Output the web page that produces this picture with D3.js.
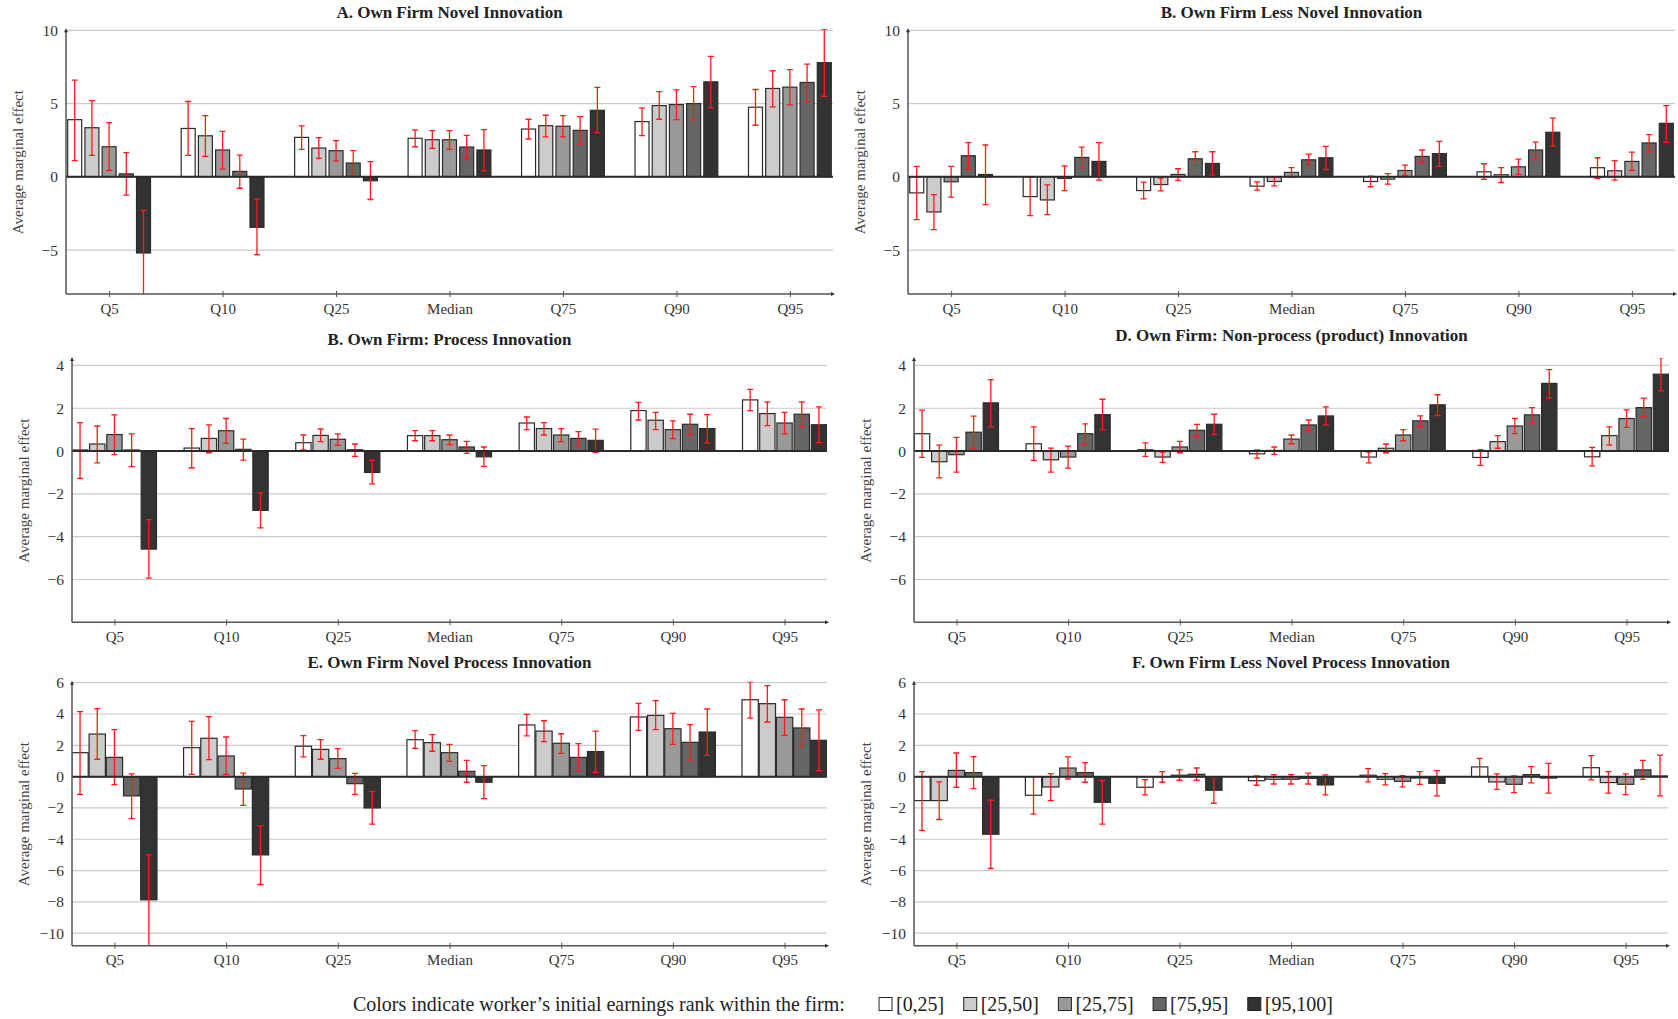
<!DOCTYPE html>
<html>
<head>
<meta charset="utf-8">
<script src="https://cdn.jsdelivr.net/npm/d3@7"></script>
<style>
  body { margin: 0; background: #fff; }
  svg text { font-family: "Liberation Serif", "DejaVu Serif", serif; }
</style>
</head>
<body>
<svg id="chart"></svg>
<script>
const quantiles = ["Q5", "Q10", "Q25", "Median", "Q75", "Q90", "Q95"];
const rankGroups = ["[0,25]", "[25,50]", "[25,75]", "[75,95]", "[95,100]"];
const legendText = "Colors indicate worker\u2019s initial earnings rank within the firm:";

const titles = [
  "A. Own Firm Novel Innovation",
  "B. Own Firm Less Novel Innovation",
  "B. Own Firm: Process Innovation",
  "D. Own Firm: Non-process (product) Innovation",
  "E. Own Firm Novel Process Innovation",
  "F. Own Firm Less Novel Process Innovation"
];

const ticksTop = [-5, 0, 5, 10];
const ticksMid = [-6, -4, -2, 0, 2, 4];
const ticksBottom = [-10, -8, -6, -4, -2, 0, 2, 4, 6];

// rows = quantiles, columns = rank groups
const novelMean = [
  [3.9, 3.35, 2.05, 0.2, -5.2],
  [3.3, 2.8, 1.83, 0.37, -3.45],
  [2.69, 1.96, 1.78, 0.94, -0.27],
  [2.63, 2.53, 2.53, 2.03, 1.83],
  [3.26, 3.49, 3.45, 3.17, 4.54],
  [3.77, 4.86, 4.93, 5.0, 6.48],
  [4.75, 6.03, 6.12, 6.44, 7.79]
];
const novelLow = [
  [1.1, 1.46, 0.43, -1.25, -8.1],
  [1.46, 1.39, 0.53, -0.78, -5.32],
  [1.87, 1.26, 1.07, 0.07, -1.55],
  [2.05, 1.94, 1.87, 1.21, 0.41],
  [2.58, 2.72, 2.72, 2.24, 3.01],
  [2.81, 3.93, 3.9, 3.88, 4.7],
  [3.52, 4.77, 4.91, 5.16, 5.5]
];
const novelHigh = [
  [6.6, 5.2, 3.7, 1.65, -2.3],
  [5.14, 4.18, 3.1, 1.48, -1.53],
  [3.47, 2.67, 2.47, 1.78, 1.03],
  [3.2, 3.15, 3.15, 2.83, 3.22],
  [3.93, 4.2, 4.18, 4.11, 6.1],
  [4.7, 5.82, 5.94, 6.16, 8.22],
  [5.96, 7.24, 7.31, 7.69, 10.07]
];

const lessNovelMean = [
  [-1.1, -2.4, -0.34, 1.44, 0.16],
  [-1.35, -1.58, -0.11, 1.32, 1.05],
  [-0.94, -0.53, 0.16, 1.23, 0.91],
  [-0.64, -0.32, 0.3, 1.16, 1.3],
  [-0.32, -0.16, 0.43, 1.39, 1.58],
  [0.34, 0.14, 0.68, 1.83, 3.04],
  [0.62, 0.41, 1.05, 2.31, 3.65]
];
const lessNovelLow = [
  [-2.92, -3.61, -1.39, 0.5, -1.9],
  [-2.65, -2.58, -0.94, 0.62, -0.23],
  [-1.51, -0.96, -0.25, 0.78, 0.11],
  [-0.91, -0.62, -0.02, 0.78, 0.5],
  [-0.68, -0.5, 0.09, 0.98, 0.71],
  [-0.18, -0.39, 0.16, 1.26, 2.1],
  [-0.11, -0.23, 0.43, 1.71, 2.35]
];
const lessNovelHigh = [
  [0.71, -1.21, 0.71, 2.33, 2.17],
  [-0.02, -0.55, 0.75, 2.03, 2.33],
  [-0.37, -0.09, 0.55, 1.71, 1.71],
  [-0.34, -0.02, 0.62, 1.55, 2.08],
  [0.05, 0.21, 0.8, 1.83, 2.42],
  [0.89, 0.62, 1.21, 2.37, 4.0],
  [1.3, 1.1, 1.69, 2.88, 4.86]
];

const processMean = [
  [0.05, 0.33, 0.77, 0.05, -4.58],
  [0.14, 0.59, 0.95, 0.08, -2.77],
  [0.39, 0.73, 0.55, 0.06, -1.0],
  [0.72, 0.72, 0.53, 0.19, -0.27],
  [1.31, 1.05, 0.75, 0.59, 0.5],
  [1.89, 1.44, 1.0, 1.25, 1.05],
  [2.39, 1.75, 1.31, 1.72, 1.23]
];
const processLow = [
  [-1.28, -0.55, -0.17, -0.73, -5.94],
  [-0.78, -0.08, 0.36, -0.42, -3.59],
  [0.05, 0.44, 0.27, -0.25, -1.53],
  [0.48, 0.48, 0.3, -0.11, -0.72],
  [1.0, 0.75, 0.44, 0.25, -0.06],
  [1.45, 1.0, 0.58, 0.75, 0.38],
  [1.89, 1.19, 0.8, 1.13, 0.39]
];
const processHigh = [
  [1.33, 1.17, 1.69, 0.8, -3.2],
  [1.05, 1.22, 1.52, 0.56, -1.95],
  [0.75, 1.03, 0.8, 0.33, -0.44],
  [0.95, 0.95, 0.75, 0.45, 0.19],
  [1.59, 1.33, 1.05, 0.91, 1.02],
  [2.27, 1.81, 1.41, 1.72, 1.7],
  [2.88, 2.3, 1.81, 2.3, 2.06]
];

const productMean = [
  [0.81, -0.5, -0.17, 0.88, 2.25],
  [0.34, -0.41, -0.28, 0.81, 1.7],
  [0.06, -0.28, 0.19, 0.97, 1.25],
  [-0.13, 0.03, 0.56, 1.22, 1.64],
  [-0.28, 0.13, 0.75, 1.41, 2.16],
  [-0.3, 0.44, 1.17, 1.69, 3.16],
  [-0.27, 0.72, 1.52, 2.03, 3.59]
];
const productLow = [
  [-0.3, -1.25, -0.98, 0.13, 1.13],
  [-0.44, -0.98, -0.8, 0.34, 1.0],
  [-0.25, -0.53, -0.08, 0.69, 0.77],
  [-0.33, -0.16, 0.34, 0.95, 1.22],
  [-0.55, -0.08, 0.48, 1.14, 1.66],
  [-0.67, 0.13, 0.81, 1.33, 2.47],
  [-0.69, 0.28, 1.11, 1.61, 2.81]
];
const productHigh = [
  [1.91, 0.28, 0.64, 1.63, 3.34],
  [1.13, 0.14, 0.23, 1.27, 2.42],
  [0.38, -0.05, 0.45, 1.25, 1.72],
  [0.05, 0.19, 0.75, 1.45, 2.06],
  [-0.05, 0.33, 1.0, 1.64, 2.63],
  [0.06, 0.72, 1.52, 2.03, 3.8],
  [0.17, 1.13, 1.92, 2.47, 4.36]
];

const novelProcessMean = [
  [1.53, 2.72, 1.23, -1.23, -7.87],
  [1.85, 2.45, 1.32, -0.79, -5.0],
  [1.94, 1.74, 1.15, -0.45, -2.0],
  [2.36, 2.17, 1.53, 0.34, -0.36],
  [3.3, 2.91, 2.13, 1.23, 1.6],
  [3.81, 3.91, 3.06, 2.19, 2.85],
  [4.91, 4.66, 3.79, 3.11, 2.32]
];
const novelProcessLow = [
  [-1.13, 1.11, -0.51, -2.68, -11.2],
  [0.15, 1.09, 0.15, -1.83, -6.89],
  [1.26, 1.11, 0.53, -1.13, -3.04],
  [1.81, 1.62, 0.98, -0.36, -1.4],
  [2.6, 2.23, 1.49, 0.38, 0.28],
  [2.96, 3.0, 2.06, 1.06, 1.36],
  [3.74, 3.49, 2.64, 1.87, 0.38]
];
const novelProcessHigh = [
  [4.15, 4.34, 3.0, 0.17, -5.0],
  [3.53, 3.83, 2.53, 0.23, -3.15],
  [2.62, 2.36, 1.79, 0.21, -0.94],
  [2.94, 2.68, 2.06, 1.04, 0.7],
  [3.98, 3.57, 2.74, 2.11, 2.91],
  [4.68, 4.85, 4.04, 3.32, 4.32],
  [6.06, 5.81, 4.91, 4.32, 4.26]
];

const lessNovelProcessMean = [
  [-1.53, -1.53, 0.4, 0.26, -3.68],
  [-1.19, -0.66, 0.55, 0.26, -1.64],
  [-0.68, -0.02, 0.09, 0.15, -0.87],
  [-0.26, -0.17, -0.17, -0.11, -0.53],
  [0.09, -0.17, -0.3, -0.09, -0.43],
  [0.62, -0.34, -0.49, 0.13, -0.09],
  [0.57, -0.38, -0.49, 0.43, 0.04]
];
const lessNovelProcessLow = [
  [-3.43, -2.74, -0.68, -0.77, -5.87],
  [-2.4, -1.53, -0.15, -0.36, -3.04],
  [-1.17, -0.36, -0.23, -0.23, -1.7],
  [-0.55, -0.47, -0.47, -0.47, -1.17],
  [-0.34, -0.53, -0.66, -0.49, -1.23],
  [0.0, -0.81, -1.02, -0.4, -1.06],
  [-0.21, -1.06, -1.15, -0.17, -1.23]
];
const lessNovelProcessHigh = [
  [0.32, -0.34, 1.51, 1.28, -1.51],
  [0.0, 0.19, 1.26, 0.89, -0.26],
  [-0.19, 0.32, 0.43, 0.55, -0.06],
  [0.04, 0.13, 0.13, 0.23, 0.11],
  [0.51, 0.19, 0.06, 0.32, 0.38],
  [1.17, 0.17, 0.04, 0.64, 0.85],
  [1.34, 0.32, 0.17, 1.04, 1.38]
];

const fills = ["#ffffff", "#cccccc", "#999999", "#666666", "#333333"];

const width = 1678;
const height = 1019;
const barStep = 17.2;
const fontFamily = "Liberation Serif";
const minusFormat = d => (d < 0 ? "\u2212" + Math.abs(d) : String(d));

const panels = [
  { title: titles[0], mean: novelMean, low: novelLow, high: novelHigh,
    x0: 66, x1: 833, yTop: 30.3, yBot: 294, domain: [-8, 10], ticks: ticksTop, barW: 14, titleY: 18 },
  { title: titles[1], mean: lessNovelMean, low: lessNovelLow, high: lessNovelHigh,
    x0: 908, x1: 1675, yTop: 30.3, yBot: 294, domain: [-8, 10], ticks: ticksTop, barW: 14, titleY: 18 },
  { title: titles[2], mean: processMean, low: processLow, high: processHigh,
    x0: 72, x1: 827, yTop: 359, yBot: 622.3, domain: [-8, 4.3], ticks: ticksMid, barW: 15.3, titleY: 345 },
  { title: titles[3], mean: productMean, low: productLow, high: productHigh,
    x0: 914, x1: 1669, yTop: 359, yBot: 622.3, domain: [-8, 4.3], ticks: ticksMid, barW: 15.3, titleY: 341 },
  { title: titles[4], mean: novelProcessMean, low: novelProcessLow, high: novelProcessHigh,
    x0: 72, x1: 827, yTop: 682.7, yBot: 945.7, domain: [-10.8, 6], ticks: ticksBottom, barW: 16.3, titleY: 668 },
  { title: titles[5], mean: lessNovelProcessMean, low: lessNovelProcessLow, high: lessNovelProcessHigh,
    x0: 914, x1: 1668, yTop: 682.7, yBot: 945.7, domain: [-10.8, 6], ticks: ticksBottom, barW: 16.3, titleY: 668 }
];

const svg = d3.select("#chart")
  .attr("width", width)
  .attr("height", height);

const defs = svg.append("defs");

panels.forEach((p, i) => drawPanel(p, i));
drawLegend();

function drawPanel(p, idx) {
  const x = d3.scalePoint()
    .domain(quantiles)
    .range([p.x0, p.x1])
    .padding(0.38);

  const y = d3.scaleLinear()
    .domain(p.domain)
    .range([p.yBot, p.yTop]);

  const clipId = "clip" + idx;
  defs.append("clipPath")
    .attr("id", clipId)
    .append("rect")
    .attr("x", p.x0)
    .attr("y", p.yTop - 1)
    .attr("width", p.x1 - p.x0)
    .attr("height", p.yBot - p.yTop + 1);

  const g = svg.append("g");

  // grid
  g.selectAll(".grid")
    .data(p.ticks.filter(t => t !== 0))
    .join("line")
    .attr("x1", p.x0)
    .attr("x2", p.x1)
    .attr("y1", d => y(d))
    .attr("y2", d => y(d))
    .attr("stroke", "#c9c9c9")
    .attr("stroke-width", 1.2);

  const plot = g.append("g").attr("clip-path", `url(#${clipId})`);

  const bars = [];
  quantiles.forEach((q, qi) => {
    rankGroups.forEach((r, ri) => {
      bars.push({
        q: q,
        r: ri,
        v: p.mean[qi][ri],
        lo: p.low[qi][ri],
        hi: p.high[qi][ri]
      });
    });
  });

  const cx = d => x(d.q) + (d.r - 2) * barStep;

  plot.selectAll(".bar")
    .data(bars)
    .join("rect")
    .attr("class", "bar")
    .attr("x", d => cx(d) - p.barW / 2)
    .attr("y", d => Math.min(y(d.v), y(0)))
    .attr("width", p.barW)
    .attr("height", d => Math.abs(y(d.v) - y(0)))
    .attr("fill", d => fills[d.r])
    .attr("stroke", "#2b2b2b")
    .attr("stroke-width", 1.2);

  // zero line
  g.append("line")
    .attr("x1", p.x0)
    .attr("x2", p.x1)
    .attr("y1", y(0))
    .attr("y2", y(0))
    .attr("stroke", "#2a2a2a")
    .attr("stroke-width", 2);

  // error bars
  const err = plot.selectAll(".err")
    .data(bars)
    .join("g")
    .attr("class", "err")
    .attr("stroke", "#ff1a1a")
    .attr("stroke-width", 1.3);

  err.append("line")
    .attr("x1", cx).attr("x2", cx)
    .attr("y1", d => y(d.lo))
    .attr("y2", d => y(d.hi));
  err.append("line")
    .attr("x1", d => cx(d) - 3).attr("x2", d => cx(d) + 3)
    .attr("y1", d => y(d.lo)).attr("y2", d => y(d.lo));
  err.append("line")
    .attr("x1", d => cx(d) - 3).attr("x2", d => cx(d) + 3)
    .attr("y1", d => y(d.hi)).attr("y2", d => y(d.hi));

  // y axis
  const yAxis = g.append("g")
    .attr("transform", `translate(${p.x0},0)`)
    .call(d3.axisLeft(y).tickValues(p.ticks).tickFormat(minusFormat).tickSize(0).tickPadding(8));
  yAxis.attr("font-family", fontFamily);
  yAxis.select(".domain").remove();
  yAxis.selectAll("text")
    .attr("font-size", 15.5)
    .attr("fill", "#333");

  // x axis
  const xAxis = g.append("g")
    .attr("transform", `translate(0,${p.yBot})`)
    .call(d3.axisBottom(x).tickSizeInner(3).tickSizeOuter(0).tickPadding(6));
  xAxis.attr("font-family", fontFamily);
  xAxis.select(".domain").remove();
  xAxis.selectAll(".tick line").attr("y1", -3).attr("stroke", "#555");
  xAxis.selectAll("text")
    .attr("font-size", 15)
    .attr("fill", "#333");

  // axis lines with arrows
  g.append("line")
    .attr("x1", p.x0).attr("x2", p.x1)
    .attr("y1", p.yBot).attr("y2", p.yBot)
    .attr("stroke", "#555")
    .attr("stroke-width", 1.5);
  g.append("line")
    .attr("x1", p.x0).attr("x2", p.x0)
    .attr("y1", p.yBot).attr("y2", p.yTop)
    .attr("stroke", "#555")
    .attr("stroke-width", 1.5);
  g.append("path")
    .attr("d", `M${p.x1 + 2},${p.yBot} l-4,-2 l0,4 z`)
    .attr("fill", "#333");
  g.append("path")
    .attr("d", `M${p.x0},${p.yTop - 2} l-2,4 l4,0 z`)
    .attr("fill", "#333");

  // y label
  g.append("text")
    .attr("transform", `translate(${p.x0 - 48},${(p.yTop + p.yBot) / 2}) rotate(-90)`)
    .attr("text-anchor", "middle")
    .attr("dy", "0.35em")
    .attr("font-size", 15)
    .attr("fill", "#444")
    .text("Average marginal effect");

  // title
  g.append("text")
    .attr("x", (p.x0 + p.x1) / 2)
    .attr("y", p.titleY)
    .attr("text-anchor", "middle")
    .attr("font-size", 17)
    .attr("font-weight", "bold")
    .attr("fill", "#222")
    .text(p.title);
}

function drawLegend() {
  const ly = 1004;
  const lg = svg.append("g").attr("font-family", fontFamily);

  const lead = lg.append("text")
    .attr("x", 353)
    .attr("y", ly)
    .attr("dy", "0.35em")
    .attr("font-size", 18)
    .attr("fill", "#222")
    .text(legendText);
  // scale font so the sentence spans about the same width as the original
  const w0 = lead.node().getComputedTextLength();
  const fs = 18 * 492 / w0;
  lead.attr("font-size", fs);

  let lx = 879;
  rankGroups.forEach((r, i) => {
    lg.append("rect")
      .attr("x", lx)
      .attr("y", ly - 6.5)
      .attr("width", 13)
      .attr("height", 13)
      .attr("fill", fills[i])
      .attr("stroke", "#222")
      .attr("stroke-width", 1);
    const t = lg.append("text")
      .attr("x", lx + 17)
      .attr("y", ly)
      .attr("dy", "0.35em")
      .attr("font-size", fs)
      .attr("fill", "#222")
      .text(r);
    lx += 17 + t.node().getComputedTextLength() + 19.5;
  });
}
</script>
</body>
</html>
